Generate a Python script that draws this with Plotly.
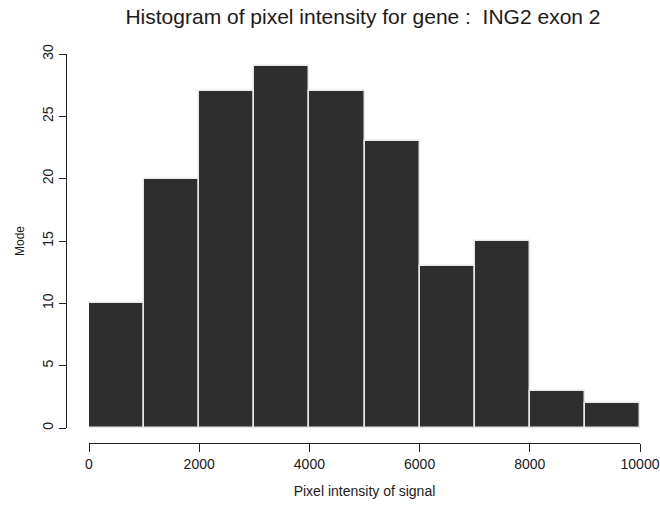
import plotly.graph_objects as go

bin_edges = [0, 1000, 2000, 3000, 4000, 5000, 6000, 7000, 8000, 9000, 10000]
counts = [10, 20, 27, 29, 27, 23, 13, 15, 3, 2]
x_ticks = [0, 2000, 4000, 6000, 8000, 10000]
y_ticks = [0, 5, 10, 15, 20, 25, 30]

centers = [(a + b) / 2 for a, b in zip(bin_edges[:-1], bin_edges[1:])]
widths = [b - a for a, b in zip(bin_edges[:-1], bin_edges[1:])]

W, H = 660, 506
FONT = "Liberation Sans, Arial, sans-serif"

fig = go.Figure()
fig.add_trace(go.Bar(
    x=centers, y=counts, width=widths,
    marker=dict(color="#2e2e2e", line=dict(color="#e8e8e8", width=1.5)),
    hoverinfo="x+y",
))

fig.update_layout(
    width=W, height=H,
    margin=dict(l=0, r=0, t=0, b=0, autoexpand=False),
    paper_bgcolor="white", plot_bgcolor="white",
    showlegend=False, bargap=0,
    font=dict(family=FONT, size=13, color="#1a1a1a"),
    title=dict(text="Histogram of pixel intensity for gene :  ING2 exon 2",
               x=363 / W, xanchor="center", y=1 - 17 / H, yanchor="middle",
               font=dict(size=21, family=FONT, color="#1a1a1a")),
    xaxis=dict(
        domain=[89 / W, 640 / W], range=[0, 10000],
        anchor="free", position=1 - 443 / H, automargin=False,
        showline=True, linecolor="#222", linewidth=1.2,
        ticks="outside", ticklen=8, tickwidth=1.2, tickcolor="#222",
        tickvals=x_ticks, ticktext=[str(v) for v in x_ticks],
        showgrid=False, zeroline=False,
        tickfont=dict(size=14),
        title=dict(text="Pixel intensity of signal", font=dict(size=14), standoff=15),
    ),
    yaxis=dict(
        domain=[1 - 428 / H, 1 - 54 / H], range=[0, 30],
        anchor="free", position=66 / W, automargin=False,
        showline=True, linecolor="#222", linewidth=1.2,
        ticks="outside", ticklen=7, tickwidth=1.2, tickcolor="#222",
        tickvals=y_ticks, ticktext=[str(v) for v in y_ticks],
        tickangle=-90,
        showgrid=False, zeroline=False,
        tickfont=dict(size=14),
        title=dict(text="Mode", font=dict(size=12), standoff=12),
    ),
)

fig.write_html("out.html")
